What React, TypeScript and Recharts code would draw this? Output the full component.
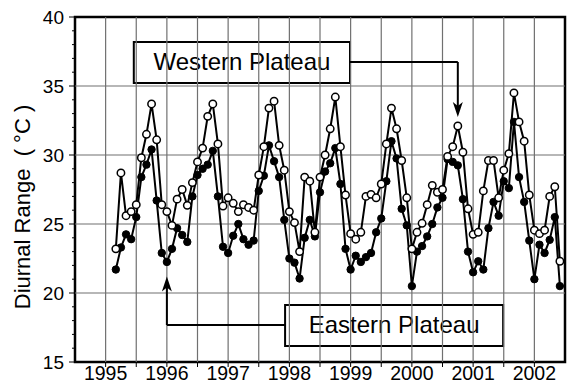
import { LineChart, Line, XAxis, YAxis, ReferenceLine, ReferenceArea, ReferenceDot } from 'recharts';

// monthly diurnal range, first sample = March 1995
const WESTERN = [
  23.2, 28.7, 25.6, 25.9, 26.4, 29.8, 31.5, 33.7, 31.1, 26.4,
  25.9, 24.9, 26.8, 27.5, 26.35, 28.0, 29.5, 30.5, 32.8, 33.7,
  30.8, 26.3, 26.9, 26.5, 25.9, 26.4, 26.2, 26.0, 28.55, 30.6,
  33.4, 33.9, 30.7, 28.9, 25.9, 25.1, 23.0, 28.4, 28.1, 24.4,
  28.4, 30.0, 31.9, 34.2, 30.6, 27.1, 24.3, 23.9, 24.4, 27.0,
  27.15, 26.9, 27.9, 30.8, 33.4, 31.9, 29.6, 26.9, 23.2, 24.4,
  25.05, 26.4, 27.8, 27.3, 27.5, 29.9, 30.6, 32.1, 30.2, 26.1,
  24.25, 24.4, 27.4, 29.6, 29.6, 26.9, 28.9, 30.1, 34.5, 32.4,
  31.0, 27.1, 24.55, 24.3, 24.55, 27.0, 27.7, 22.3,
];

const EASTERN = [
  21.7, 23.3, 24.25, 23.9, 25.5, 28.4, 29.3, 30.4, 26.7, 22.9,
  22.25, 23.2, 24.7, 24.2, 23.7, 27.0, 28.55, 29.0, 29.3, 30.3,
  27.0, 23.35, 22.9, 24.15, 25.0, 23.9, 23.5, 23.8, 27.4, 28.5,
  30.7, 29.55, 28.4, 25.3, 22.5, 22.2, 21.05, 24.0, 25.3, 24.1,
  27.3, 28.8, 29.4, 30.5, 27.9, 23.2, 21.7, 22.7, 22.25, 22.6,
  22.9, 24.4, 25.4, 28.1, 31.0, 29.75, 26.1, 24.9, 20.5, 23.0,
  23.4, 24.1, 25.0, 26.2, 26.9, 29.7, 29.5, 29.25, 26.8, 23.0,
  21.5, 22.3, 21.7, 24.7, 26.6, 25.6, 28.1, 27.6, 32.4, 28.4,
  26.6, 23.8, 21.0, 23.5, 22.9, 23.85, 25.5, 20.5,
];

const FIRST_MONTH = 1995 + 2 / 12;

const YEARS = [1995, 1996, 1997, 1998, 1999, 2000, 2001, 2002];
const HALF_YEARS = [1995, 1995.5, 1996, 1996.5, 1997, 1997.5, 1998, 1998.5, 1999, 1999.5, 2000, 2000.5, 2001, 2001.5, 2002];
const Y_GRID = [20, 25, 30, 35];
const Y_TICKS = [15, 16, 17, 18, 19, 20, 21, 22, 23, 24, 25, 26, 27, 28, 29, 30, 31, 32, 33, 34, 35, 36, 37, 38, 39, 40];

const data = WESTERN.map((w, i) => ({
  t: FIRST_MONTH + i / 12,
  western: w,
  eastern: EASTERN[i],
}));

const FONT = '"Liberation Sans", Arial, Helvetica, sans-serif';
const GRID = '#707070';

function YTick({ x, y, payload }: any) {
  const v = payload.value;
  const major = v % 5 === 0;
  return (
    <g>
      <line x1={x} x2={x - (major ? 6 : 3)} y1={y} y2={y} stroke="#000" strokeWidth={1} />
      {major && (
        <text x={x - 11} y={y} dy={7} textAnchor="end" fontSize={19} fill="#000">
          {v}
        </text>
      )}
    </g>
  );
}

function XTick({ x, y, payload }: any) {
  const v = payload.value;
  const isYear = YEARS.includes(v);
  return (
    <g>
      <line x1={x} x2={x} y1={y} y2={y + 5} stroke="#000" strokeWidth={1} />
      {isYear && (
        <text x={x} y={y + 18} textAnchor="middle" fontSize={19.5} fill="#000">
          {v}
        </text>
      )}
    </g>
  );
}

const boxLabel = (text: string) => ({ viewBox }: any) => (
  <text
    x={viewBox.x + viewBox.width / 2}
    y={viewBox.y + viewBox.height / 2}
    dy={8}
    textAnchor="middle"
    fontSize={24}
    fill="#000"
  >
    {text}
  </text>
);

const arrowDown = ({ cx, cy }: any) => (
  <polygon points={`${cx},${cy} ${cx - 5},${cy - 15} ${cx},${cy - 11} ${cx + 5},${cy - 15}`} fill="#000" />
);

const arrowUp = ({ cx, cy }: any) => (
  <polygon points={`${cx},${cy} ${cx - 5},${cy + 15} ${cx},${cy + 11} ${cx + 5},${cy + 15}`} fill="#000" />
);

export default function App() {
  return (
    <div style={{ position: 'absolute', left: 0, top: 0, width: 568, height: 390, background: '#fff', fontFamily: FONT }}>
      <LineChart width={568} height={390} data={data} margin={{ top: 17, right: 3, bottom: 0, left: 0 }}>
        <XAxis
          dataKey="t"
          type="number"
          domain={[1994.5, 2002.5]}
          allowDataOverflow
          ticks={HALF_YEARS}
          interval={0}
          tick={XTick}
          tickLine={false}
          axisLine={false}
          tickSize={0}
          tickMargin={0}
          height={28}
        />
        <YAxis
          type="number"
          domain={[15, 40]}
          allowDataOverflow
          ticks={Y_TICKS}
          interval={0}
          tick={YTick}
          tickLine={false}
          axisLine={false}
          tickSize={0}
          tickMargin={0}
          width={75}
          label={{
            content: () => (
              <text transform="translate(30,207) rotate(-90)" textAnchor="middle" fontSize={22} fill="#000">
                {'Diurnal Range\u00a0\u00a0(\u00a0°C\u00a0)'}
              </text>
            ),
          }}
        />

        {HALF_YEARS.map((x) => (
          <ReferenceLine key={`gx${x}`} x={x} stroke={GRID} strokeWidth={1.2} />
        ))}
        {Y_GRID.map((y) => (
          <ReferenceLine key={`gy${y}`} y={y} stroke={GRID} strokeWidth={1.2} />
        ))}

        <Line
          type="linear"
          dataKey="eastern"
          stroke="#000"
          strokeWidth={2}
          dot={{ r: 3.7, fill: '#000', stroke: '#000', strokeWidth: 1 }}
          isAnimationActive={false}
        />
        <Line
          type="linear"
          dataKey="western"
          stroke="#000"
          strokeWidth={2}
          dot={{ r: 3.7, fill: '#fff', stroke: '#000', strokeWidth: 1.5 }}
          isAnimationActive={false}
        />

        {/* Western Plateau callout */}
        <ReferenceLine segment={[{ x: 1998.99, y: 36.74 }, { x: 2000.75, y: 36.74 }]} stroke="#000" strokeWidth={2} />
        <ReferenceLine segment={[{ x: 2000.75, y: 36.74 }, { x: 2000.75, y: 33.4 }]} stroke="#000" strokeWidth={2} />
        <ReferenceDot x={2000.75} y={32.75} r={0} shape={arrowDown} />
        <ReferenceArea
          x1={1995.46}
          x2={1998.99}
          y1={35.22}
          y2={38.19}
          fill="#fff"
          fillOpacity={1}
          stroke="#000"
          strokeWidth={2}
          label={{ content: boxLabel('Western Plateau') }}
        />

        {/* Eastern Plateau callout */}
        <ReferenceLine segment={[{ x: 1997.93, y: 17.68 }, { x: 1996.0, y: 17.68 }]} stroke="#000" strokeWidth={2} />
        <ReferenceLine segment={[{ x: 1996.0, y: 17.68 }, { x: 1996.0, y: 20.6 }]} stroke="#000" strokeWidth={2} />
        <ReferenceDot x={1996.0} y={21.2} r={0} shape={arrowUp} />
        <ReferenceArea
          x1={1997.93}
          x2={2001.49}
          y1={16.16}
          y2={19.13}
          fill="#fff"
          fillOpacity={1}
          stroke="#000"
          strokeWidth={2}
          label={{ content: boxLabel('Eastern Plateau') }}
        />

        {/* plot frame */}
        <ReferenceArea x1={1994.5} x2={2002.5} y1={15} y2={40} fill="none" stroke="#000" strokeWidth={2.5} />
      </LineChart>
    </div>
  );
}
